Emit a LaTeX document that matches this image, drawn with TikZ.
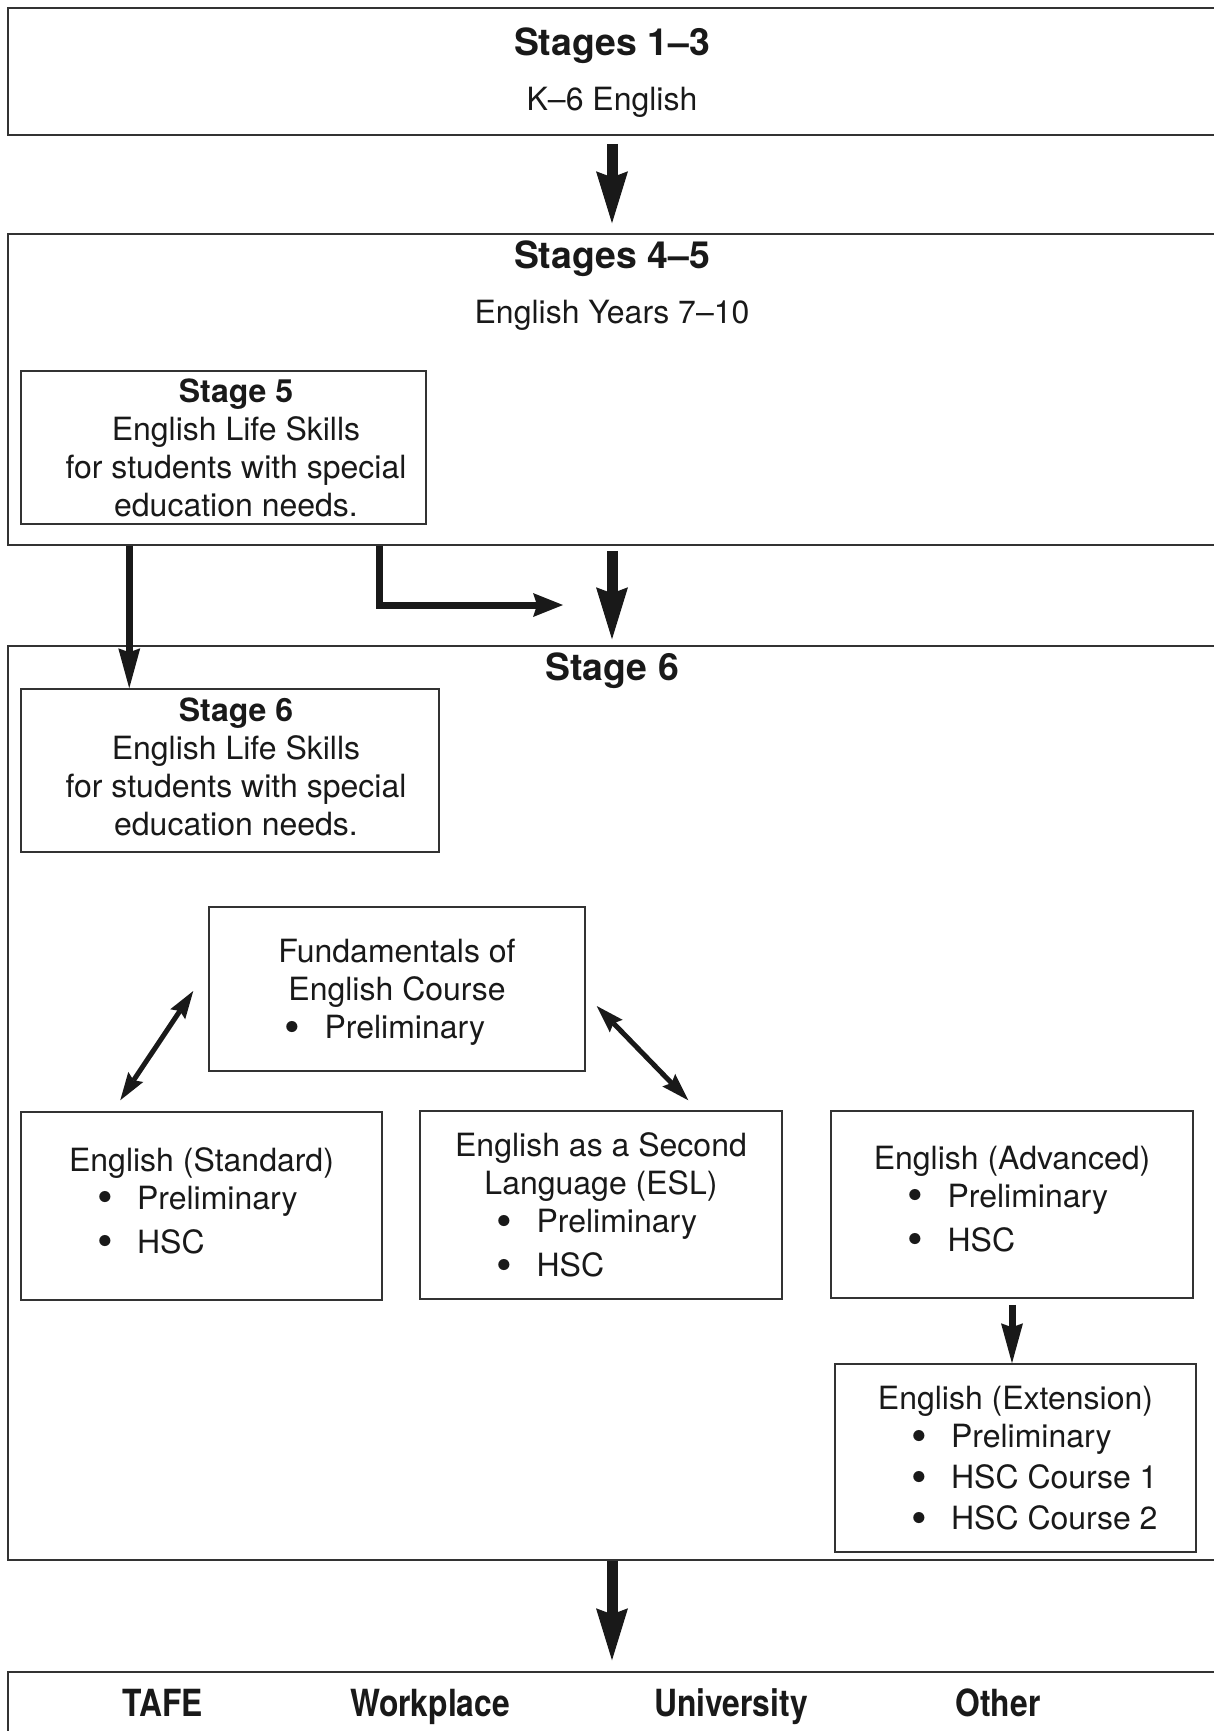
\documentclass[tikz,border=0pt]{standalone}
\usepackage{fontspec}
\usepackage{graphicx}
\setmainfont{TeX Gyre Heros}
\newfontfamily\narrowfont[FakeStretch=0.85]{TeX Gyre Heros}
\usetikzlibrary{arrows.meta,calc}
\newdimen\pxu \pxu=0.5pt
\newcommand\bodyfont{\fontsize{16}{19}\selectfont}
\newcommand\headfont{\fontsize{18.7}{22}\selectfont\bfseries}
\newcommand\dotmark{\raisebox{-0.1em}{\scalebox{1.4}{\textbullet}}}
\newcommand\topgap{\rule{0pt}{17.5pt}}
\newcommand\bulletlist[2]{\hspace*{#1}\begin{tabular}[t]{@{}l@{\hspace{12pt}}l@{}}#2\end{tabular}}

\begin{document}
\begin{tikzpicture}[x=0.5pt,y=-0.5pt,
  stageframe/.style={draw=black!80, line width=0.75pt, minimum width=1208\pxu, inner sep=0pt},
  box/.style={draw=black!80, line width=0.75pt, inner sep=0pt, align=center, font=\bodyfont, text=black!90},
  head/.style={font=\headfont, text=black!90},
  body/.style={font=\bodyfont, text=black!90, align=center},
  outlabel/.style={font=\fontsize{18.7}{22}\narrowfont\bfseries, text=black!90, anchor=base},
  bigarrow/.style={draw=black!90, line width=5.5pt, -{Stealth[length=26pt, width=16pt, inset=3pt, line width=0pt]}},
  midarrow/.style={draw=black!90, line width=3.5pt, -{Stealth[length=20pt, width=11pt, inset=2pt, line width=0pt]}},
  elbowarrow/.style={draw=black!90, line width=3.5pt, -{Stealth[length=15pt, width=12pt, inset=2pt, line width=0pt]}},
  dblarrow/.style={draw=black!90, line width=2.5pt, {Stealth[length=14pt, width=9pt, inset=2pt, line width=0pt]}-{Stealth[length=14pt, width=9pt, inset=2pt, line width=0pt]}}]
\useasboundingbox (0,0) rectangle (1214,1731);

\node[stageframe, minimum height=127\pxu] (s13) at (612,71.5) {};
\node[stageframe, minimum height=311\pxu] (s45) at (612,389.5) {};
\node[stageframe, minimum height=914\pxu] (s6) at (612,1103) {};
\node[stageframe, minimum height=88\pxu] (out) at (612,1716) {};

\node[head] (t13) at (612,45.5) {Stages 1--3};
\node[body] (k6) at (612,102.5) {K--6 English};
\node[head] (t45) at (612,258.5) {Stages 4--5};
\node[body] (y710) at (612,315.5) {English Years 7--10};
\node[head] (t6) at (612,670.5) {Stage 6};

\node[box, minimum width=405\pxu, minimum height=153\pxu] (ls5) at (223.5,447.5) {};
\node[body] (ls5txt) at ($(ls5.center)+(12.5,0)$) {\textbf{Stage 5}\\English Life Skills\\for students with special\\education needs.};
\node[box, minimum width=418\pxu, minimum height=163\pxu] (ls6) at (230,770.5) {};
\node[body] (ls6txt) at ($(ls6.center)+(6,-4)$) {\textbf{Stage 6}\\English Life Skills\\for students with special\\education needs.};
\node[box, minimum width=376\pxu, minimum height=164\pxu] (fund) at (397,989) {\topgap Fundamentals of\\English Course\\\bulletlist{-12pt}{\dotmark & Preliminary}};
\node[box, minimum width=361\pxu, minimum height=188\pxu] (std) at (201.5,1206) {English (Standard)\\\bulletlist{-4pt}{\dotmark & Preliminary\\[3pt] \dotmark & HSC}};
\node[box, minimum width=362\pxu, minimum height=188\pxu] (esl) at (601,1205) {\topgap English as a Second\\Language (ESL)\\\bulletlist{-4pt}{\dotmark & Preliminary\\[3pt] \dotmark & HSC}};
\node[box, minimum width=362\pxu, minimum height=187\pxu] (adv) at (1012,1204.5) {English (Advanced)\\\bulletlist{-4pt}{\dotmark & Preliminary\\[3pt] \dotmark & HSC}};
\node[box, minimum width=361\pxu, minimum height=188\pxu] (ext) at (1015.5,1458) {\topgap English (Extension)\\\bulletlist{19pt}{\dotmark & Preliminary\\[1.5pt] \dotmark & HSC Course 1\\[1.5pt] \dotmark & HSC Course 2}};

\node[outlabel] (tafe) at (163,1716) {TAFE};
\node[outlabel] (work) at (430,1716) {Workplace};
\node[outlabel] (uni) at (731,1716) {University};
\node[outlabel] (other) at (998,1716) {Other};

\coordinate (lsx) at ($(ls6.north west)+(109,0)$);
\coordinate (elbx) at ($(ls5.south west)+(359,0)$);
\coordinate (elbend) at (563,605);

\draw[bigarrow, shorten <=8\pxu, shorten >=10\pxu] (s13.south) -- (s45.north);
\draw[bigarrow, shorten <=5\pxu, shorten >=6\pxu] (s45.south) -- (s6.north);
\draw[bigarrow, shorten >=11\pxu] (s6.south) -- (out.north);
\draw[midarrow] (lsx |- s45.south) -- (lsx);
\draw[elbowarrow] (elbx |- s45.south) |- (elbend);
\draw[dblarrow] ($(std.north west)+(100,-11)$) -- ($(fund.west)+(-15,2)$);
\draw[dblarrow] ($(fund.east)+(11,17)$) -- ($(esl.north west)+(269,-10)$);
\draw[midarrow, shorten <=6\pxu] (adv.south) -- (adv.south |- ext.north);
\end{tikzpicture}
\end{document}
